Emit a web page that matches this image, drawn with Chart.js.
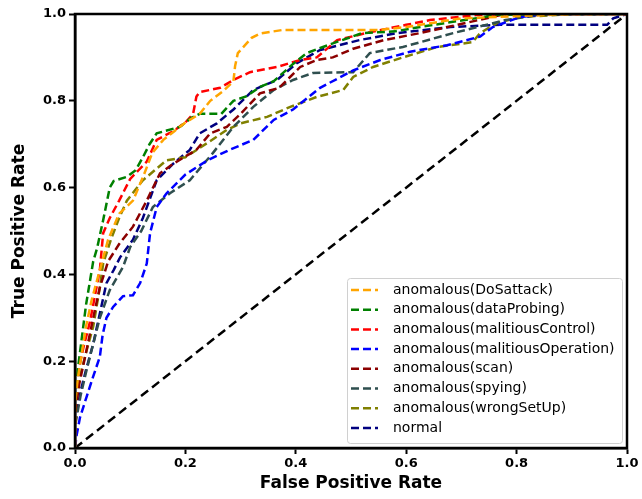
<!DOCTYPE html>
<html>
<head>
<meta charset="utf-8">
<script src="https://cdn.jsdelivr.net/npm/chart.js@4/dist/chart.umd.min.js"></script>
<style>
html,body{margin:0;padding:0;background:#fff;}
canvas{display:block;}
</style>
</head>
<body>
<canvas id="c" width="642" height="499"></canvas>
<script>
// ---- data ----
const seriesLabels = ["anomalous(DoSattack)","anomalous(dataProbing)","anomalous(malitiousControl)","anomalous(malitiousOperation)","anomalous(scan)","anomalous(spying)","anomalous(wrongSetUp)","normal"];
const seriesColors = ["#FFA500","#008000","#FF0000","#0000FF","#8B0000","#2F4F4F","#808000","#000080"];

const dosFpr = [0,0,0.005,0.02,0.03,0.045,0.06,0.08,0.105,0.115,0.125,0.14,0.16,0.18,0.2,0.226,0.245,0.268,0.287,0.29,0.295,0.32,0.335,0.375,0.55,0.6,0.65,0.7,0.8,0.9,1];
const dosTpr = [0,0.1,0.16,0.28,0.34,0.41,0.48,0.54,0.57,0.6,0.63,0.68,0.71,0.73,0.75,0.77,0.8,0.822,0.845,0.88,0.91,0.945,0.955,0.963,0.963,0.97,0.98,0.99,0.995,1,1];

const probFpr = [0,0,0.005,0.01,0.02,0.033,0.04,0.051,0.063,0.07,0.094,0.11,0.123,0.135,0.148,0.19,0.21,0.226,0.265,0.287,0.31,0.335,0.36,0.395,0.42,0.462,0.52,0.58,0.625,0.7,0.765,0.85,1];
const probTpr = [0,0.1,0.18,0.23,0.33,0.43,0.46,0.525,0.6,0.615,0.625,0.64,0.67,0.7,0.725,0.74,0.76,0.77,0.77,0.8,0.81,0.832,0.845,0.885,0.91,0.93,0.956,0.96,0.97,0.985,0.998,1,1];

const ctrlFpr = [0,0,0.004,0.015,0.027,0.036,0.045,0.051,0.063,0.08,0.1,0.115,0.13,0.148,0.178,0.2,0.214,0.22,0.226,0.263,0.287,0.317,0.366,0.408,0.438,0.475,0.534,0.6,0.643,0.73,0.8,1];
const ctrlTpr = [0,0.12,0.165,0.23,0.29,0.35,0.41,0.495,0.53,0.57,0.62,0.64,0.66,0.71,0.73,0.75,0.77,0.81,0.82,0.83,0.848,0.866,0.878,0.894,0.9,0.94,0.958,0.975,0.986,0.998,1,1];

const operFpr = [0,0.003,0.009,0.021,0.033,0.045,0.05,0.057,0.069,0.087,0.105,0.118,0.13,0.136,0.148,0.166,0.2,0.24,0.28,0.323,0.36,0.395,0.444,0.504,0.553,0.607,0.674,0.734,0.757,0.806,0.85,1];
const operTpr = [0,0.03,0.07,0.118,0.165,0.21,0.26,0.3,0.325,0.35,0.352,0.38,0.425,0.495,0.555,0.587,0.63,0.663,0.687,0.71,0.756,0.78,0.83,0.87,0.894,0.913,0.928,0.948,0.97,0.993,1,1];

const scanFpr = [0,0,0.008,0.02,0.033,0.045,0.06,0.08,0.105,0.13,0.154,0.178,0.22,0.245,0.275,0.3,0.335,0.37,0.408,0.438,0.467,0.504,0.56,0.625,0.71,0.78,1];
const scanTpr = [0,0.08,0.15,0.22,0.3,0.37,0.43,0.47,0.51,0.57,0.633,0.655,0.687,0.725,0.74,0.77,0.817,0.83,0.878,0.894,0.9,0.92,0.94,0.956,0.98,1,1];

const spyFpr = [0,0,0.01,0.021,0.033,0.045,0.063,0.087,0.1,0.12,0.141,0.172,0.208,0.25,0.287,0.323,0.36,0.395,0.431,0.504,0.534,0.594,0.685,0.78,0.85,1];
const spyTpr = [0,0.05,0.12,0.18,0.24,0.3,0.364,0.417,0.463,0.5,0.555,0.587,0.617,0.68,0.74,0.786,0.825,0.848,0.864,0.866,0.91,0.924,0.956,0.986,1,1];

const wrongFpr = [0,0,0.009,0.02,0.033,0.045,0.051,0.065,0.08,0.094,0.123,0.166,0.2,0.24,0.275,0.3,0.348,0.39,0.438,0.486,0.504,0.54,0.594,0.656,0.72,0.734,0.764,0.806,0.9,1];
const wrongTpr = [0,0.09,0.165,0.22,0.28,0.37,0.425,0.48,0.53,0.57,0.617,0.663,0.67,0.703,0.733,0.748,0.763,0.786,0.809,0.825,0.855,0.878,0.9,0.924,0.935,0.956,0.979,0.993,1,1];

const normFpr = [0,0,0.01,0.02,0.033,0.045,0.057,0.07,0.082,0.105,0.123,0.148,0.178,0.208,0.226,0.257,0.287,0.323,0.366,0.402,0.444,0.516,0.583,0.68,0.77,0.964,0.975,1];
const normTpr = [0,0.06,0.13,0.18,0.24,0.31,0.38,0.41,0.44,0.48,0.53,0.617,0.655,0.687,0.725,0.748,0.78,0.825,0.848,0.887,0.917,0.94,0.956,0.97,0.975,0.975,0.99,1];

const chanceFpr = [0,1];
const chanceTpr = [0,1];

const xTicks = [0,0.2,0.4,0.6,0.8,1.0];
const yTicks = [0,0.2,0.4,0.6,0.8,1.0];
const xTitle = "False Positive Rate";
const yTitle = "True Positive Rate";

// ---- build datasets ----
const fprs = [dosFpr,probFpr,ctrlFpr,operFpr,scanFpr,spyFpr,wrongFpr,normFpr];
const tprs = [dosTpr,probTpr,ctrlTpr,operTpr,scanTpr,spyTpr,wrongTpr,normTpr];
const DASH = [8,4];
const datasets = seriesLabels.map((lab,i)=>({
  label: lab,
  data: fprs[i].map((x,j)=>({x:x,y:tprs[i][j]})),
  borderColor: seriesColors[i],
  backgroundColor: seriesColors[i],
  borderWidth: 2.5,
  borderDash: DASH,
  showLine: true,
  pointRadius: 0,
  fill: false,
  tension: 0
}));
datasets.push({
  label: "_chance",
  data: chanceFpr.map((x,j)=>({x:x,y:chanceTpr[j]})),
  borderColor: "#000",
  borderWidth: 2.5,
  borderDash: [9,5],
  showLine: true,
  pointRadius: 0
});

const FONT = "'DejaVu Sans', sans-serif";

const framePlugin = {
  id: 'frameLegend',
  afterDatasetsDraw(chart){
    const {ctx, chartArea:a} = chart;
    ctx.save();
    ctx.strokeStyle = '#000';
    ctx.lineWidth = 2.5;
    ctx.setLineDash([]);
    ctx.strokeRect(a.left, a.top, a.right-a.left, a.bottom-a.top);
    // legend box
    const bx = 347, by = 278, bw = 275, bh = 165;
    ctx.fillStyle = 'rgba(255,255,255,0.85)';
    ctx.strokeStyle = '#d0d0d0';
    ctx.lineWidth = 1;
    ctx.beginPath();
    if (ctx.roundRect) ctx.roundRect(bx+0.5, by+0.5, bw, bh, 3); else ctx.rect(bx+0.5,by+0.5,bw,bh);
    ctx.fill(); ctx.stroke();
    ctx.font = "14px " + FONT;
    ctx.textBaseline = 'middle';
    const y0 = 290, step = 19.7;
    seriesLabels.forEach((lab,i)=>{
      const y = y0 + i*step;
      ctx.strokeStyle = seriesColors[i];
      ctx.lineWidth = 2.5;
      ctx.setLineDash(DASH);
      ctx.beginPath(); ctx.moveTo(351,y); ctx.lineTo(378,y); ctx.stroke();
      ctx.setLineDash([]);
      ctx.fillStyle = '#000';
      ctx.fillText(lab, 393, y);
    });
    ctx.restore();
  }
};

new Chart(document.getElementById('c'), {
  type: 'scatter',
  data: { datasets },
  options: {
    responsive: false,
    animation: false,
    devicePixelRatio: 1,
    layout: { padding: { top: 14, right: 15, left: 0, bottom: 0 } },
    plugins: { legend: { display: false }, tooltip: { enabled: false } },
    scales: {
      x: {
        type: 'linear', min: 0, max: 1,
        afterBuildTicks: s => { s.ticks = xTicks.map(v=>({value:v})); },
        afterFit: s => { s.height = 51; },
        ticks: { callback: v => Number(v).toFixed(1), color:'#000', font:{family:FONT, size:13, weight:'bold'}, padding: 2, maxRotation:0, autoSkip:false },
        grid: { display: true, drawOnChartArea: false, drawTicks: true, tickLength: 6, tickWidth: 2, tickColor: '#000' },
        border: { display: true, color: '#000', width: 2.5 },
        title: { display: true, text: xTitle, color:'#000', font:{family:FONT, size:17, weight:'bold'}, padding:{top:0,bottom:5} }
      },
      y: {
        type: 'linear', min: 0, max: 1,
        afterBuildTicks: s => { s.ticks = yTicks.map(v=>({value:v})); },
        afterFit: s => { s.width = 75; },
        ticks: { callback: v => Number(v).toFixed(1), color:'#000', font:{family:FONT, size:13, weight:'bold'}, padding: 3, autoSkip:false },
        grid: { display: true, drawOnChartArea: false, drawTicks: true, tickLength: 6, tickWidth: 2, tickColor: '#000' },
        border: { display: true, color: '#000', width: 2.5 },
        title: { display: true, text: yTitle, color:'#000', font:{family:FONT, size:17, weight:'bold'}, padding:{top:9,bottom:0} }
      }
    }
  },
  plugins: [framePlugin]
});
</script>
</body>
</html>
